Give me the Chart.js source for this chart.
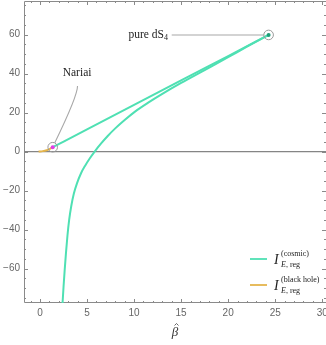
<!DOCTYPE html>
<html>
<head>
<meta charset="utf-8">
<script src="https://cdn.jsdelivr.net/npm/chart.js@4.4.1/dist/chart.umd.min.js"></script>
<style>
  html, body { margin: 0; padding: 0; background: #fff; }
  #wrap { width: 326px; height: 345px; }
</style>
</head>
<body>
<div id="wrap"><canvas id="myChart"></canvas></div>
<script>
// cosmic horizon branch, Nariai -> pure dS4 (upper, nearly straight)
const cosmicUpperX = [1.35, 5, 10, 15, 20, 24.3];
const cosmicUpperY = [2.25, 11.4, 23.9, 36.5, 49.0, 59.8];
// cosmic horizon branch coming up from -infinity
const cosmicLowerX = [2.36, 2.4, 2.5, 2.62, 2.76, 2.92, 3.1, 3.32, 3.6, 3.95, 4.35, 4.8, 5.3, 5.85, 6.5, 7.2, 8.0, 9.0, 10.1, 11.5, 13, 15, 17.5, 20, 22, 24.3];
const cosmicLowerY = [-81, -77.5, -69.5, -61, -52, -43, -35, -28, -21.5, -16, -11.2, -7.2, -3.4, 0.3, 4.2, 8.0, 11.9, 16.2, 20.5, 25.1, 29.6, 35.2, 41.8, 48.4, 53.8, 59.8];
// black hole branch, ends at Nariai
const blackHoleX = [-0.15, 0.3, 0.7, 1.0, 1.35];
const blackHoleY = [0, 0.25, 0.7, 1.3, 2.25];

const nariaiPoint = [1.35, 2.25];
const pureDSPoint = [24.3, 59.8];

const xTickLabels = [0, 5, 10, 15, 20, 25, 30];
const yTickLabels = [-60, -40, -20, 0, 20, 40, 60];

const teal = '#4fe0b3';
const gold = '#e5b54c';
const frameGray = '#8a8a8a';

const pts = (xs, ys) => xs.map((x, i) => ({ x: x, y: ys[i] }));

// frame (left, top, bottom), inward ticks and the y = 0 axis line
const frameTicks = {
  id: 'frameTicks',
  beforeDatasetsDraw(chart) {
    const { ctx, chartArea: a, scales: { x, y } } = chart;
    ctx.save();
    ctx.strokeStyle = frameGray;
    ctx.lineWidth = 1;
    ctx.beginPath();
    ctx.moveTo(a.right, a.top + 0.5); ctx.lineTo(a.left + 0.5, a.top + 0.5);
    ctx.lineTo(a.left + 0.5, a.bottom - 0.5); ctx.lineTo(a.right, a.bottom - 0.5);
    ctx.stroke();

    ctx.beginPath();
    for (let v = -1; v <= 30; v++) {
      const px = Math.round(x.getPixelForValue(v)) + 0.5;
      const len = v % 5 === 0 ? 4 : 2;
      ctx.moveTo(px, a.bottom); ctx.lineTo(px, a.bottom - len);
      ctx.moveTo(px, a.top); ctx.lineTo(px, a.top + len);
    }
    for (let v = -75; v <= 75; v += 5) {
      const py = Math.round(y.getPixelForValue(v)) + 0.5;
      const len = v % 20 === 0 ? 4 : 2;
      ctx.moveTo(a.left, py); ctx.lineTo(a.left + len, py);
      ctx.moveTo(a.right, py); ctx.lineTo(a.right - len, py);
    }
    ctx.stroke();

    const y0 = y.getPixelForValue(0);
    ctx.lineWidth = 1.4;
    ctx.strokeStyle = '#858585';
    ctx.beginPath();
    ctx.moveTo(a.left, y0); ctx.lineTo(a.right, y0);
    ctx.stroke();
    ctx.restore();
  }
};

// callout labels, axis title and the legend
const callouts = {
  id: 'callouts',
  afterDraw(chart) {
    const { ctx, chartArea: a, scales: { x, y } } = chart;
    const px = v => x.getPixelForValue(v);
    const py = v => y.getPixelForValue(v);
    ctx.save();
    ctx.strokeStyle = '#a8a8a8';
    ctx.lineWidth = 1.1;

    // Nariai
    const nx = px(nariaiPoint[0]), ny = py(nariaiPoint[1]);
    ctx.beginPath();
    ctx.moveTo(px(3.99), py(33.6));
    ctx.quadraticCurveTo(px(3.99), py(28.5), nx + 2, ny - 4.2);
    ctx.stroke();
    ctx.fillStyle = '#222';
    ctx.font = '11.5px "Liberation Serif"';
    ctx.textAlign = 'center';
    ctx.textBaseline = 'middle';
    ctx.fillText('Nariai', px(3.94), py(40.4));

    // pure dS4
    const dx = px(pureDSPoint[0]), dy = py(pureDSPoint[1]);
    ctx.beginPath();
    ctx.moveTo(px(14.0), dy);
    ctx.lineTo(dx - 4.5, dy);
    ctx.stroke();
    ctx.textAlign = 'right';
    ctx.font = '8px "Liberation Serif"';
    const endX = px(13.6);
    ctx.fillText('4', endX, dy + 3);
    const w4 = ctx.measureText('4').width;
    ctx.font = '11.5px "Liberation Serif"';
    ctx.fillText('pure dS', endX - w4, dy);

    // x axis title: beta with a hat
    const tx = (a.left + a.right) / 2, ty = 336;
    ctx.textAlign = 'center';
    ctx.textBaseline = 'alphabetic';
    ctx.fillStyle = '#333';
    ctx.font = 'italic 13px "Liberation Serif"';
    ctx.fillText('β', tx, ty);
    ctx.strokeStyle = '#444';
    ctx.lineWidth = 0.8;
    ctx.beginPath();
    ctx.moveTo(tx - 0.5, ty - 10.5);
    ctx.lineTo(tx + 1.5, ty - 12.5);
    ctx.lineTo(tx + 3.5, ty - 10.5);
    ctx.stroke();

    // legend
    const entries = [
      { color: teal, sup: '(cosmic)', y: 259 },
      { color: gold, sup: '(black hole)', y: 285 }
    ];
    entries.forEach(e => {
      ctx.strokeStyle = e.color;
      ctx.lineWidth = 1.8;
      ctx.beginPath();
      ctx.moveTo(250, e.y); ctx.lineTo(267, e.y);
      ctx.stroke();
      ctx.fillStyle = '#222';
      ctx.textAlign = 'left';
      ctx.textBaseline = 'alphabetic';
      ctx.font = 'italic 14px "Liberation Serif"';
      ctx.fillText('I', 274, e.y + 5);
      ctx.font = '8px "Liberation Serif"';
      ctx.fillText(e.sup, 281, e.y - 3);
      ctx.font = 'italic 8px "Liberation Serif"';
      ctx.fillText('E', 281, e.y + 8);
      const wE = ctx.measureText('E').width;
      ctx.font = '8px "Liberation Serif"';
      ctx.fillText(', reg', 281 + wE, e.y + 8);
    });
    ctx.restore();
  }
};

const ctx = document.getElementById('myChart');

new Chart(ctx, {
  type: 'scatter',
  data: {
    datasets: [
      {
        label: 'marker rings',
        data: [{ x: nariaiPoint[0], y: nariaiPoint[1] }, { x: pureDSPoint[0], y: pureDSPoint[1] }],
        pointRadius: 4.8,
        pointBorderWidth: 1,
        pointBorderColor: '#9a9a9a',
        pointBackgroundColor: 'rgba(255,255,255,0)',
        showLine: false
      },
      {
        label: 'Nariai',
        data: [{ x: nariaiPoint[0], y: nariaiPoint[1] }],
        pointRadius: 2,
        pointBorderWidth: 0,
        pointBackgroundColor: '#e03ee6',
        showLine: false
      },
      {
        label: 'pure dS4',
        data: [{ x: pureDSPoint[0], y: pureDSPoint[1] }],
        pointRadius: 2,
        pointBorderWidth: 0,
        pointBackgroundColor: '#1e9c78',
        showLine: false
      },
      {
        label: 'cosmic upper',
        data: pts(cosmicUpperX, cosmicUpperY),
        borderColor: teal,
        borderWidth: 2,
        pointRadius: 0,
        showLine: true,
        cubicInterpolationMode: 'monotone'
      },
      {
        label: 'cosmic lower',
        data: pts(cosmicLowerX, cosmicLowerY),
        borderColor: teal,
        borderWidth: 2,
        pointRadius: 0,
        showLine: true,
        cubicInterpolationMode: 'monotone'
      },
      {
        label: 'black hole',
        data: pts(blackHoleX, blackHoleY),
        borderColor: gold,
        borderWidth: 2,
        pointRadius: 0,
        showLine: true,
        cubicInterpolationMode: 'monotone'
      }
    ]
  },
  options: {
    responsive: true,
    maintainAspectRatio: false,
    animation: false,
    layout: { autoPadding: false, padding: { top: 1, right: 0, left: 0, bottom: 0 } },
    plugins: { legend: { display: false }, tooltip: { enabled: false } },
    scales: {
      x: {
        type: 'linear',
        min: -1.7,
        max: 30.4,
        border: { display: false },
        grid: { display: false, drawTicks: false },
        afterBuildTicks: s => { s.ticks = xTickLabels.map(v => ({ value: v })); },
        afterFit: s => { s.height = 42; s.paddingLeft = 0; s.paddingRight = 0; },
        ticks: {
          padding: 4,
          maxRotation: 0,
          color: '#666',
          font: { family: 'Liberation Sans', size: 10 },
          callback: v => String(v)
        }
      },
      y: {
        type: 'linear',
        min: -77.6,
        max: 77.2,
        border: { display: false },
        grid: { display: false, drawTicks: false },
        afterBuildTicks: s => { s.ticks = yTickLabels.map(v => ({ value: v })); },
        afterFit: s => { s.width = 24; s.paddingTop = 0; s.paddingBottom = 0; },
        ticks: {
          padding: 4,
          color: '#666',
          font: { family: 'Liberation Sans', size: 10 },
          callback: v => (v < 0 ? '\u2212' + Math.abs(v) : String(v))
        }
      }
    }
  },
  plugins: [frameTicks, callouts]
});
</script>
</body>
</html>
